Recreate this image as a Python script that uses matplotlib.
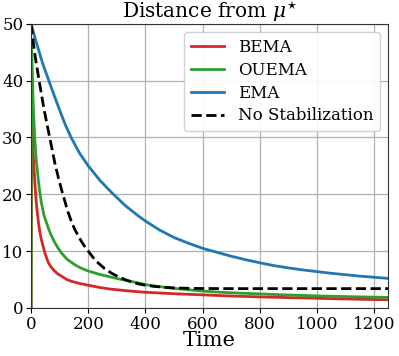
import matplotlib
matplotlib.use("Agg")
import matplotlib.pyplot as plt

plt.rcParams['font.family'] = ['DejaVu Serif']
plt.rcParams['mathtext.fontset'] = 'dejavuserif'

t_bema = [0, 2, 5, 8, 13, 18, 25, 30, 36, 48, 60, 70, 80, 93, 106, 125, 140, 170, 200, 240, 280,
          330, 375, 400, 500, 600, 700, 800, 900, 1000, 1100, 1200, 1250]
bema = [0, 34, 30, 26.5, 22, 18.5, 15.3, 13.5, 12, 9.7, 8.0, 7.2, 6.6, 6.0, 5.6, 5.0, 4.7, 4.3, 4.0, 3.6, 3.3,
        3.05, 2.85, 2.76, 2.5, 2.3, 2.1, 1.94, 1.82, 1.7, 1.58, 1.48, 1.45]

t_ouema = [0, 1, 3, 6, 9, 13, 18, 25, 30, 36, 45, 60, 70, 83, 95, 106, 125, 153, 175, 200, 240, 282,
           320, 347, 375, 400, 450, 500, 550, 600, 650, 700, 800, 900, 1000, 1100, 1200, 1250]
ouema = [0, 46, 44, 38, 33.5, 29.7, 26, 22.6, 20.5, 18.5, 16.3, 14.1, 12.8, 11.5, 10.5, 9.7, 8.6, 7.6, 7.0, 6.5, 5.9, 5.4,
         4.95, 4.7, 4.4, 4.1, 3.75, 3.45, 3.2, 2.97, 2.8, 2.67, 2.47, 2.28, 2.12, 2.0, 1.9, 1.85]

t_ema = [0, 12, 25, 40, 62, 80, 100, 120, 141, 170, 200, 240, 282, 330, 375, 400, 450, 500, 550, 600,
         650, 700, 750, 800, 850, 900, 950, 1000, 1050, 1100, 1150, 1200, 1250]
ema = [50, 47.8, 45.6, 43.1, 40, 37.5, 34.8, 32.2, 29.9, 27.2, 25, 22.5, 20.3, 18, 16.2, 15.3, 13.7, 12.4, 11.4, 10.5,
       9.8, 9.1, 8.5, 7.95, 7.45, 7.05, 6.7, 6.4, 6.1, 5.85, 5.6, 5.4, 5.2]

t_nostab = [0, 8, 15, 28, 45, 65, 83, 95, 106, 118, 129, 141, 153, 165, 176, 188, 200, 215, 235, 258, 282,
            305, 328, 350, 375, 400, 430, 465, 500, 550, 600, 700, 1250]
nostab = [50, 46.5, 44, 40, 35, 30, 25.5, 23, 20.9, 18.8, 16.9, 15.2, 13.8, 12.7, 11.7, 10.8, 10, 9.0, 7.9, 6.9, 6.1,
          5.5, 5.0, 4.6, 4.25, 4.0, 3.8, 3.63, 3.52, 3.45, 3.42, 3.4, 3.4]

fig, ax = plt.subplots(figsize=(3.99, 3.56), dpi=100)
ax.plot(t_bema, bema, color='#d62728', lw=2, label='BEMA')
ax.plot(t_ouema, ouema, color='#2ca02c', lw=2, label='OUEMA')
ax.plot(t_ema, ema, color='#1f77b4', lw=2, label='EMA')
ax.plot(t_nostab, nostab, color='black', lw=2, ls='--', label='No Stabilization')

ax.set_xlim(0, 1250)
ax.set_ylim(0, 50)
ax.set_xticks([0, 200, 400, 600, 800, 1000, 1200])
ax.set_yticks([0, 10, 20, 30, 40, 50])
ax.grid(True, color='#b0b0b0', lw=0.9)
ax.tick_params(labelsize=12, length=3.5, width=0.8, pad=2)
ax.set_title(r'Distance from $\mu^{\star}$', fontsize=14.5, pad=2)
ax.set_xlabel('Time', fontsize=15, labelpad=-1)
for s in ax.spines.values():
    s.set_color('#333333')
ax.legend(loc='upper right', fontsize=12, handlelength=2.0, framealpha=0.9,
          borderaxespad=0.5, labelspacing=0.35)

fig.subplots_adjust(left=0.078, right=0.973, top=0.933, bottom=0.135)
fig.savefig('out.png', dpi=100)
